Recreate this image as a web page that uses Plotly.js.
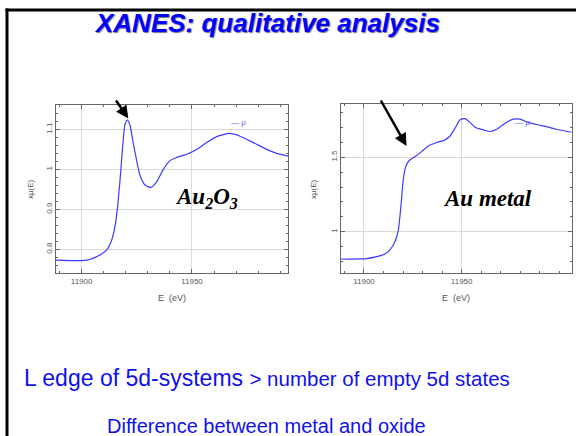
<!DOCTYPE html>
<html>
<head>
<meta charset="utf-8">
<script src="https://cdn.plot.ly/plotly-3.0.1.min.js"></script>
<style>
  html, body { margin: 0; padding: 0; background: #fff; }
  #chart { width: 576px; height: 436px; }
</style>
</head>
<body>
<div id="chart"></div>
<script>
// Au L3-edge XANES: gold(III) oxide
const energyOxide = [11888.4, 11902.3, 11908.3, 11911.3, 11913.6, 11915.1, 11916.3, 11917.4, 11918.6, 11919.6,
  11920.7, 11921.9, 11923.4, 11924.9, 11926.4, 11928.7, 11931.3, 11934.0, 11937.0, 11940.0,
  11943.1, 11947.6, 11952.1, 11956.6, 11961.2, 11967.2, 11971.8, 11977.8, 11983.8, 11988.4, 11993.7];
const muOxide = [0.773, 0.773, 0.786, 0.798, 0.823, 0.857, 0.907, 0.973, 1.057, 1.111,
  1.123, 1.111, 1.065, 1.023, 0.986, 0.961, 0.955, 0.969, 1.000, 1.022,
  1.030, 1.038, 1.050, 1.067, 1.082, 1.090, 1.083, 1.067, 1.050, 1.040, 1.033];

// Au L3-edge XANES: gold metal foil
const energyMetal = [11888.1, 11901.4, 11906.5, 11910.8, 11913.3, 11915.9, 11917.6, 11918.9, 11920.1, 11921.5,
  11923.2, 11926.1, 11929.5, 11932.9, 11937.2, 11941.5, 11944.0, 11946.6, 11949.1, 11951.7,
  11954.3, 11956.8, 11961.1, 11964.5, 11967.9, 11972.2, 11976.5, 11979.9, 11983.3, 11988.4,
  11993.5, 11998.6, 12006.3];
const muMetal = [0.816, 0.818, 0.832, 0.850, 0.877, 0.933, 1.011, 1.168, 1.348, 1.442,
  1.478, 1.504, 1.538, 1.576, 1.599, 1.617, 1.643, 1.695, 1.751, 1.760,
  1.733, 1.702, 1.684, 1.673, 1.688, 1.729, 1.756, 1.756, 1.738, 1.720,
  1.706, 1.688, 1.668];

// labelled tick positions
const energyTicks = [11900, 11950];
const muTicksOxide = [0.8, 0.9, 1, 1.1];
const muTicksMetal = [1, 1.5];

const slideTitle = 'XANES: qualitative analysis';
const sampleOxide = '<i><b>Au<sub>2</sub>O<sub>3</sub></b></i>';
const sampleMetal = '<i><b>Au metal</b></i>';
const xTitle = 'E  (eV)';
const yTitle = 'xμ(E)';
const legendName = 'μ';
const noteLine1 = 'L edge of 5d-systems <span style="font-size:20.5px">&gt; number of empty 5d states</span>';
const noteLine2 = 'Difference between metal and oxide';

const W = 576, H = 436;
const px = v => v / W;
const py = v => 1 - v / H;

const curve = { color: '#3b3bff', width: 1.2, shape: 'spline', smoothing: 0.6 };

const traces = [
  { x: energyOxide, y: muOxide, name: legendName, type: 'scatter', mode: 'lines',
    line: curve, xaxis: 'x', yaxis: 'y', showlegend: false, hoverinfo: 'skip' },
  { x: energyMetal, y: muMetal, name: legendName, type: 'scatter', mode: 'lines',
    line: curve, xaxis: 'x2', yaxis: 'y2', showlegend: false, hoverinfo: 'skip' }
];

const tickFont = { family: 'Liberation Sans, Arial, sans-serif', size: 8, color: '#555' };

function axisBase(extra) {
  return Object.assign({
    showline: true, linecolor: '#666', linewidth: 1, mirror: 'allticks',
    ticks: 'inside', ticklen: 4, tickcolor: '#666', tickwidth: 1,
    showgrid: true, gridcolor: '#dadada', gridwidth: 1,
    zeroline: false, tickfont: tickFont, fixedrange: true
  }, extra);
}

const minorTicks = (step, start) => ({ dtick: step, tick0: start, ticks: 'inside', ticklen: 2,
  tickcolor: '#666', showgrid: false });

const layout = {
  width: W, height: H,
  margin: { l: 0, r: 0, t: 0, b: 0 },
  paper_bgcolor: '#fff', plot_bgcolor: '#fff',
  showlegend: false,
  xaxis: axisBase({ domain: [px(56), px(288)], range: [11888.4, 11993.5], anchor: 'y',
    tickmode: 'array', tickvals: energyTicks, tickformat: 'd', minor: minorTicks(10, 11900) }),
  yaxis: axisBase({ domain: [py(273), py(105)], range: [0.741, 1.161], anchor: 'x',
    tickmode: 'array', tickvals: muTicksOxide, tickangle: -90, minor: minorTicks(0.02, 0.8) }),
  xaxis2: axisBase({ domain: [px(340.7), px(571.7)], range: [11888.1, 12006.3], anchor: 'y2',
    tickmode: 'array', tickvals: energyTicks, tickformat: 'd', minor: minorTicks(10, 11900) }),
  yaxis2: axisBase({ domain: [py(273.3), py(104.3)], range: [0.72, 1.856], anchor: 'x2',
    tickmode: 'array', tickvals: muTicksMetal, tickangle: -90, minor: minorTicks(0.1, 1) }),
  shapes: [
    { type: 'line', xref: 'paper', yref: 'paper', x0: px(5.5), x1: 1, y0: py(10), y1: py(10),
      line: { color: '#000', width: 3 } },
    { type: 'line', xref: 'paper', yref: 'paper', x0: px(7), x1: px(7), y0: py(8.5), y1: 0,
      line: { color: '#000', width: 3 } }
  ],
  annotations: [
    { text: slideTitle, xref: 'paper', yref: 'paper', x: px(267), y: py(23),
      xanchor: 'center', yanchor: 'middle', showarrow: false,
      font: { family: 'Liberation Sans, Arial, sans-serif', size: 26, color: '#0000ff',
              weight: 'bold', style: 'italic', shadow: '1px 1px 1px rgba(0,0,60,0.55)' } },
    { text: sampleOxide, xref: 'paper', yref: 'paper', x: px(206.5), y: py(198),
      xanchor: 'center', yanchor: 'middle', showarrow: false,
      font: { family: 'Liberation Serif, Times New Roman, serif', size: 23, color: '#000' } },
    { text: sampleMetal, xref: 'paper', yref: 'paper', x: px(487), y: py(198),
      xanchor: 'center', yanchor: 'middle', showarrow: false,
      font: { family: 'Liberation Serif, Times New Roman, serif', size: 23, color: '#000' } },
    { text: xTitle, xref: 'paper', yref: 'paper', x: px(172), y: py(298),
      xanchor: 'center', yanchor: 'middle', showarrow: false,
      font: { family: 'Liberation Sans, Arial, sans-serif', size: 9, color: '#555' } },
    { text: xTitle, xref: 'paper', yref: 'paper', x: px(456), y: py(298),
      xanchor: 'center', yanchor: 'middle', showarrow: false,
      font: { family: 'Liberation Sans, Arial, sans-serif', size: 9, color: '#555' } },
    { text: yTitle, xref: 'paper', yref: 'paper', x: px(30), y: py(189), textangle: -90,
      xanchor: 'center', yanchor: 'middle', showarrow: false,
      font: { family: 'Liberation Sans, Arial, sans-serif', size: 8, color: '#555' } },
    { text: yTitle, xref: 'paper', yref: 'paper', x: px(313), y: py(189), textangle: -90,
      xanchor: 'center', yanchor: 'middle', showarrow: false,
      font: { family: 'Liberation Sans, Arial, sans-serif', size: 8, color: '#555' } },
    { text: '— ' + legendName, xref: 'paper', yref: 'paper', x: px(229), y: py(123),
      xanchor: 'left', yanchor: 'middle', showarrow: false,
      font: { family: 'Liberation Sans, Arial, sans-serif', size: 8, color: '#5555ff' } },
    { text: '— ' + legendName, xref: 'paper', yref: 'paper', x: px(513), y: py(123),
      xanchor: 'left', yanchor: 'middle', showarrow: false,
      font: { family: 'Liberation Sans, Arial, sans-serif', size: 8, color: '#5555ff' } },
    { text: '', xref: 'paper', yref: 'paper', x: px(128.3), y: py(118.5), ax: -13.3, ay: -19.5,
      showarrow: true, arrowhead: 2, arrowsize: 1, arrowwidth: 2.5, arrowcolor: '#000', standoff: 0 },
    { text: '', xref: 'paper', yref: 'paper', x: px(406.5), y: py(146), ax: -26.5, ay: -47,
      showarrow: true, arrowhead: 2, arrowsize: 1, arrowwidth: 2.5, arrowcolor: '#000', standoff: 0 },
    { text: noteLine1, xref: 'paper', yref: 'paper', x: px(22), y: py(378),
      xanchor: 'left', yanchor: 'middle', showarrow: false,
      font: { family: 'Liberation Sans, Arial, sans-serif', size: 23, color: '#1010f0' } },
    { text: noteLine2, xref: 'paper', yref: 'paper', x: px(266), y: py(426),
      xanchor: 'center', yanchor: 'middle', showarrow: false,
      font: { family: 'Liberation Sans, Arial, sans-serif', size: 20, color: '#1010f0' } }
  ]
};

Plotly.newPlot('chart', traces, layout, { staticPlot: true, displayModeBar: false });
</script>
</body>
</html>
